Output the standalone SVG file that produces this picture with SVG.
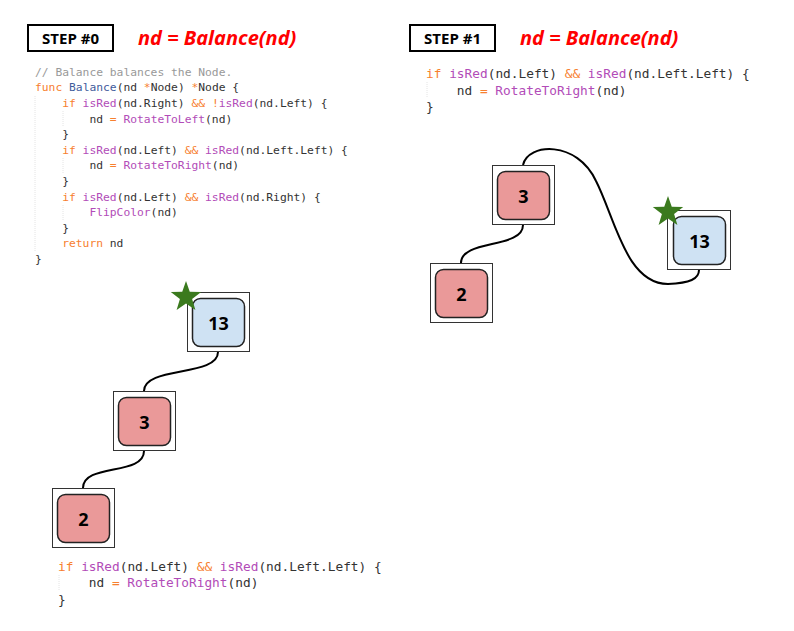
<svg xmlns="http://www.w3.org/2000/svg" width="794" height="631" viewBox="0 0 794 631">
<style>
.bg{fill:#ffffff}
.stepbox{fill:#ffffff;stroke:#000;stroke-width:2}
.step{font-family:"Open Sans","Liberation Sans",sans-serif;font-weight:bold;font-size:15px;fill:#000;text-anchor:middle}
.title{font-family:"Open Sans","Liberation Sans",sans-serif;font-weight:bold;font-style:italic;font-size:20px;fill:#ff0000}
.code{font-family:"DejaVu Sans Mono","Liberation Mono",monospace;fill:#333333;white-space:pre}
.c1{font-size:11.3px}
.c2{font-size:12.8px}
.cm{fill:#999999}
.kw{fill:#f7802f}
.fn{fill:#b24cb8}
.bl{fill:#3f5c9c}
.guide{stroke:#e4e4e4;stroke-width:1;stroke-dasharray:1 1}
.outer{fill:#ffffff;stroke:#333333;stroke-width:1}
.red{fill:#ea9999;stroke:#222222;stroke-width:1.5}
.blue{fill:#cfe2f3;stroke:#222222;stroke-width:1.5}
.lbl{font-family:"Open Sans","Liberation Sans",sans-serif;font-weight:bold;font-size:18px;fill:#000;text-anchor:middle;dominant-baseline:central}
.edge{fill:none;stroke:#000;stroke-width:2}
.star{fill:#3b7a1e}
</style>
<defs>
<polygon id="star" class="star" points="0,-16 3.76,-5.18 15.22,-4.94 6.09,1.98 9.40,12.94 0,6.4 -9.40,12.94 -6.09,1.98 -15.22,-4.94 -3.76,-5.18"/>
</defs>
<rect class="bg" x="0" y="0" width="794" height="631"/>

<g id="step0-header">
<rect class="stepbox" x="28" y="25" width="85" height="26"/>
<text class="step" x="70.5" y="43.5">STEP #0</text>
<text class="title" x="138" y="45">nd = Balance(nd)</text>
</g>
<g id="step1-header">
<rect class="stepbox" x="410" y="25" width="85" height="26"/>
<text class="step" x="452.5" y="43.5">STEP #1</text>
<text class="title" x="520" y="45">nd = Balance(nd)</text>
</g>

<g id="code-left">
<line class="guide" x1="35" y1="96" x2="35" y2="252"/>
<line class="guide" x1="63" y1="111" x2="63" y2="127"/>
<line class="guide" x1="63" y1="158" x2="63" y2="174"/>
<line class="guide" x1="63" y1="205" x2="63" y2="221"/>
<text class="code c1" x="35" y="75.7"><tspan class="cm">// Balance balances the Node.</tspan></text>
<text class="code c1" x="35" y="91.3"><tspan class="kw">func</tspan> <tspan class="bl">Balance</tspan>(nd <tspan class="kw">*</tspan>Node) <tspan class="kw">*</tspan>Node {</text>
<text class="code c1" x="62.2" y="106.9"><tspan class="kw">if</tspan> <tspan class="fn">isRed</tspan>(nd.Right) <tspan class="kw">&amp;&amp;</tspan> <tspan class="kw">!</tspan><tspan class="fn">isRed</tspan>(nd.Left) {</text>
<text class="code c1" x="89.4" y="122.5">nd <tspan class="kw">=</tspan> <tspan class="fn">RotateToLeft</tspan>(nd)</text>
<text class="code c1" x="62.2" y="138.1">}</text>
<text class="code c1" x="62.2" y="153.7"><tspan class="kw">if</tspan> <tspan class="fn">isRed</tspan>(nd.Left) <tspan class="kw">&amp;&amp;</tspan> <tspan class="fn">isRed</tspan>(nd.Left.Left) {</text>
<text class="code c1" x="89.4" y="169.3">nd <tspan class="kw">=</tspan> <tspan class="fn">RotateToRight</tspan>(nd)</text>
<text class="code c1" x="62.2" y="184.9">}</text>
<text class="code c1" x="62.2" y="200.5"><tspan class="kw">if</tspan> <tspan class="fn">isRed</tspan>(nd.Left) <tspan class="kw">&amp;&amp;</tspan> <tspan class="fn">isRed</tspan>(nd.Right) {</text>
<text class="code c1" x="89.4" y="216.1"><tspan class="fn">FlipColor</tspan>(nd)</text>
<text class="code c1" x="62.2" y="231.7">}</text>
<text class="code c1" x="62.2" y="247.3"><tspan class="kw">return</tspan> nd</text>
<text class="code c1" x="35" y="262.9">}</text>
</g>

<g id="code-right">
<line class="guide" x1="427" y1="82" x2="427" y2="98"/>
<text class="code c2" x="426" y="78"><tspan class="kw">if</tspan> <tspan class="fn">isRed</tspan>(nd.Left) <tspan class="kw">&amp;&amp;</tspan> <tspan class="fn">isRed</tspan>(nd.Left.Left) {</text>
<text class="code c2" x="456.8" y="94.8">nd <tspan class="kw">=</tspan> <tspan class="fn">RotateToRight</tspan>(nd)</text>
<text class="code c2" x="426" y="111.4">}</text>
</g>

<g id="code-bottom">
<line class="guide" x1="59" y1="575" x2="59" y2="591"/>
<text class="code c2" x="58" y="570.7"><tspan class="kw">if</tspan> <tspan class="fn">isRed</tspan>(nd.Left) <tspan class="kw">&amp;&amp;</tspan> <tspan class="fn">isRed</tspan>(nd.Left.Left) {</text>
<text class="code c2" x="88.8" y="587.3">nd <tspan class="kw">=</tspan> <tspan class="fn">RotateToRight</tspan>(nd)</text>
<text class="code c2" x="58" y="603.8">}</text>
</g>

<g id="connectors">
<path class="edge" d="M218,352 C218,377 144,366 144,391"/>
<path class="edge" d="M144,451 C144,476 83,463 83,488"/>
<path class="edge" d="M523,225 C523,249 461,239 461,263"/>
<path class="edge" d="M523,165 C528,143 577,140 596,181 C615,218 626,284 668,284 C690,283 699,279 699,270"/>
</g>

<g id="node-13-left">
<rect class="outer" x="187.5" y="292.5" width="62" height="59"/>
<rect class="blue" x="192.5" y="298.5" width="52" height="48" rx="8"/>
<text class="lbl" x="218.5" y="323">13</text>
<use href="#star" x="186" y="297"/>
</g>
<g id="node-3-left">
<rect class="outer" x="113.5" y="391.5" width="62" height="59"/>
<rect class="red" x="118.5" y="397.5" width="52" height="48" rx="8"/>
<text class="lbl" x="144.5" y="422">3</text>
</g>
<g id="node-2-left">
<rect class="outer" x="52.5" y="488.5" width="62" height="59"/>
<rect class="red" x="57.5" y="494.5" width="52" height="48" rx="8"/>
<text class="lbl" x="83.5" y="519">2</text>
</g>

<g id="node-3-right">
<rect class="outer" x="492.5" y="165.5" width="62" height="59"/>
<rect class="red" x="497.5" y="171.5" width="52" height="48" rx="8"/>
<text class="lbl" x="523.5" y="196">3</text>
</g>
<g id="node-2-right">
<rect class="outer" x="430.5" y="263.5" width="62" height="59"/>
<rect class="red" x="435.5" y="269.5" width="52" height="48" rx="8"/>
<text class="lbl" x="461.5" y="294">2</text>
</g>
<g id="node-13-right">
<rect class="outer" x="667.5" y="210.5" width="63" height="59"/>
<rect class="blue" x="673.5" y="216.5" width="52" height="48" rx="8"/>
<text class="lbl" x="699.5" y="241">13</text>
<use href="#star" x="668" y="212"/>
</g>
</svg>
